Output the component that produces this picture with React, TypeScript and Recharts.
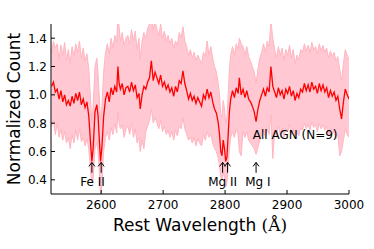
import React from 'react';
import { ComposedChart, Line, Area, XAxis, YAxis, ReferenceLine, ReferenceDot } from 'recharts';

const wavelength = [
  2520, 2523, 2526, 2529, 2532, 2535, 2538, 2541, 2544, 2547, 2550, 2553, 2556, 2559, 2562, 2565, 2568, 2571, 2574, 2577,
  2580, 2583, 2585, 2587, 2590, 2593, 2595, 2597, 2599, 2601, 2604, 2607, 2610, 2613, 2616, 2619, 2622, 2625, 2627, 2629,
  2631, 2634, 2637, 2640,
  2643, 2646, 2649, 2652, 2655, 2658, 2661, 2663, 2666, 2669, 2672, 2675, 2678, 2681, 2684, 2687, 2690, 2693, 2696, 2699,
  2702, 2705, 2708, 2711, 2714, 2717, 2720, 2723, 2726, 2729, 2732, 2735, 2738, 2741, 2744, 2747, 2750, 2753, 2756, 2759,
  2762, 2765, 2768, 2771, 2774, 2777, 2780, 2783, 2786, 2789, 2791, 2793, 2795, 2797, 2799, 2801, 2803, 2805, 2807, 2809,
  2812, 2815, 2818, 2821, 2823, 2826, 2829, 2832, 2835, 2838, 2841, 2844, 2847, 2850, 2853, 2856, 2859, 2862, 2865, 2868,
  2871, 2874, 2877,
  2880, 2883, 2886, 2889, 2892, 2895, 2898, 2901, 2904, 2907, 2910, 2913, 2916, 2919, 2922, 2925, 2928, 2931, 2934, 2937,
  2940, 2943, 2946, 2949, 2952, 2955, 2958, 2961, 2964, 2967, 2970, 2973, 2976, 2979, 2982, 2985, 2988, 2991, 2994, 2997,
  3000,
];

const flux = [
  1.06, 1.09, 1.02, 1.04, 0.97, 1.03, 0.95, 1.00, 0.93, 0.96, 0.92, 0.99, 0.94, 1.01, 0.96, 1.02, 0.93, 0.97, 0.91, 0.95,
  0.85, 0.65, 0.53, 0.62, 0.88, 0.93, 0.85, 0.68, 0.53, 0.62, 0.85, 0.97, 1.02, 0.95, 1.05, 1.00, 1.06, 1.02, 1.20, 1.08,
  1.04, 1.08, 1.00, 1.05,
  1.06, 1.02, 1.09, 1.03, 1.07, 0.98, 1.01, 0.90, 1.00, 1.06, 1.04, 1.09, 1.12, 1.24, 1.10, 1.16, 1.12, 1.08, 1.14, 1.06,
  1.09, 1.04, 1.07, 1.02, 1.05, 0.99, 1.06, 1.02, 1.10, 1.08, 1.17, 1.08, 1.03, 0.97, 1.01, 0.96, 0.99, 0.94, 0.98, 0.95,
  0.92, 1.00, 0.97, 1.04, 0.98, 1.02, 0.95, 0.90, 0.87, 0.80, 0.72, 0.60, 0.57, 0.68, 0.62, 0.53, 0.56, 0.72, 0.88, 0.97,
  1.03, 0.98, 1.05, 1.01, 1.12, 1.00, 1.04, 0.98, 1.03, 0.97, 0.95, 0.92, 0.88, 0.81, 0.90, 0.96, 1.00, 1.04, 0.99, 1.05,
  1.02, 1.20, 1.06,
  1.02, 0.98, 1.05, 1.00, 1.03, 0.97, 1.04, 1.01, 1.06, 0.99, 1.03, 0.96, 1.01, 0.98, 1.04, 1.02, 1.08, 1.03, 1.07, 1.02,
  1.09, 1.04, 1.06, 1.01, 1.08, 1.03, 1.07, 1.02, 1.05, 0.98, 1.03, 0.99, 1.02, 0.96, 0.99, 0.90, 0.83, 0.95, 1.04, 1.00,
  0.97,
];

const fluxHigh = [
  1.30, 1.38, 1.33, 1.36, 1.25, 1.35, 1.28, 1.37, 1.24, 1.32, 1.22, 1.34, 1.27, 1.36, 1.30, 1.38, 1.26, 1.33, 1.24, 1.29,
  1.18, 0.95, 0.80, 0.92, 1.20, 1.26, 1.15, 0.98, 0.82, 0.90, 1.16, 1.30, 1.36, 1.29, 1.40, 1.33, 1.42, 1.37, 1.55, 1.48,
  1.38, 1.44, 1.35, 1.40,
  1.42, 1.36, 1.46, 1.38, 1.45, 1.32, 1.40, 1.25, 1.38, 1.44, 1.40, 1.47, 1.50, 1.58, 1.46, 1.52, 1.46, 1.42, 1.50, 1.40,
  1.45, 1.38, 1.42, 1.36, 1.40, 1.33, 1.38, 1.35, 1.44, 1.40, 1.48, 1.38, 1.34, 1.28, 1.32, 1.26, 1.30, 1.24, 1.28, 1.25,
  1.22, 1.30, 1.27, 1.38, 1.28, 1.34, 1.26, 1.20, 1.16, 1.08, 1.00, 0.86, 0.84, 0.96, 0.90, 0.80, 0.84, 1.00, 1.18, 1.28,
  1.34, 1.28, 1.36, 1.32, 1.40, 1.36, 1.34, 1.28, 1.34, 1.27, 1.24, 1.20, 1.16, 1.08, 1.18, 1.26, 1.30, 1.36, 1.30, 1.38,
  1.34, 1.52, 1.40,
  1.32, 1.26, 1.34, 1.28, 1.33, 1.24, 1.32, 1.28, 1.35, 1.26, 1.32, 1.22, 1.28, 1.25, 1.32, 1.30, 1.36, 1.31, 1.35, 1.30,
  1.37, 1.32, 1.34, 1.29, 1.36, 1.31, 1.35, 1.30, 1.33, 1.26, 1.31, 1.27, 1.30, 1.24, 1.27, 1.18, 1.10, 1.22, 1.32, 1.28,
  1.25,
];

const fluxLow = [
  0.78, 0.82, 0.72, 0.80, 0.70, 0.76, 0.68, 0.74, 0.66, 0.70, 0.62, 0.72, 0.66, 0.75, 0.68, 0.76, 0.67, 0.70, 0.64, 0.69,
  0.62, 0.45, 0.38, 0.40, 0.62, 0.66, 0.60, 0.45, 0.30, 0.35, 0.60, 0.70, 0.74, 0.68, 0.77, 0.72, 0.80, 0.73, 0.88, 0.80,
  0.76, 0.79, 0.70, 0.76,
  0.78, 0.72, 0.80, 0.70, 0.76, 0.66, 0.70, 0.60, 0.68, 0.62, 0.74, 0.78, 0.82, 0.90, 0.80, 0.84, 0.80, 0.76, 0.82, 0.74,
  0.78, 0.72, 0.75, 0.70, 0.74, 0.68, 0.75, 0.71, 0.78, 0.76, 0.84, 0.76, 0.72, 0.68, 0.70, 0.66, 0.70, 0.64, 0.69, 0.66,
  0.64, 0.72, 0.68, 0.74, 0.70, 0.72, 0.66, 0.62, 0.60, 0.55, 0.50, 0.42, 0.40, 0.45, 0.42, 0.35, 0.38, 0.50, 0.62, 0.70,
  0.74, 0.70, 0.76, 0.72, 0.60, 0.57, 0.74, 0.70, 0.74, 0.68, 0.66, 0.64, 0.62, 0.58, 0.63, 0.68, 0.72, 0.75, 0.70, 0.76,
  0.72, 0.86, 0.55,
  0.74, 0.70, 0.78, 0.72, 0.76, 0.70, 0.77, 0.74, 0.79, 0.72, 0.76, 0.70, 0.74, 0.71, 0.77, 0.75, 0.80, 0.76, 0.79, 0.75,
  0.81, 0.77, 0.79, 0.74, 0.80, 0.76, 0.79, 0.75, 0.78, 0.71, 0.76, 0.72, 0.75, 0.69, 0.72, 0.57, 0.60, 0.68, 0.76, 0.72,
  0.70,
];

const xTicks = [2600, 2700, 2800, 2900, 3000];
const yTicks = [0.4, 0.6, 0.8, 1.0, 1.2, 1.4];

const arrowLines = [2585, 2600, 2796, 2804, 2850];
const lineLabels = [
  { name: 'Fe II', wl: 2586, y: 0.385 },
  { name: 'Mg II', wl: 2796, y: 0.385 },
  { name: 'Mg I', wl: 2853, y: 0.385 },
];
const groupLabel = { name: 'All AGN (N=9)', wl: 2913, y: 0.718 };
const arrowTail = 0.45;
const arrowTip = 0.523;

const data = wavelength.map((wl, i) => ({
  wl,
  flux: flux[i],
  band: [fluxLow[i], fluxHigh[i]],
}));

const FONT = 'DejaVu Sans, sans-serif';

const BottomTick = (props: any) => {
  const { x, y, payload } = props;
  return (
    <g>
      <line x1={x} x2={x} y1={y} y2={y - 4} stroke="#000" strokeWidth={1} />
      <text x={x} y={y + 15} textAnchor="middle" fontSize={12} fontFamily={FONT} fill="#000">
        {payload.value}
      </text>
    </g>
  );
};

const TopTick = (props: any) => {
  const { x, y } = props;
  return <line x1={x} x2={x} y1={y} y2={y + 4} stroke="#000" strokeWidth={1} />;
};

const LeftTick = (props: any) => {
  const { x, y, payload } = props;
  return (
    <g>
      <line x1={x} x2={x + 4} y1={y} y2={y} stroke="#000" strokeWidth={1} />
      <text x={x - 4} y={y} dy={4.5} textAnchor="end" fontSize={12} fontFamily={FONT} fill="#000">
        {Number(payload.value).toFixed(1)}
      </text>
    </g>
  );
};

const RightTick = (props: any) => {
  const { x, y } = props;
  return <line x1={x} x2={x - 4} y1={y} y2={y} stroke="#000" strokeWidth={1} />;
};

const ArrowShape = (props: any) => {
  const { x1, y1, x2, y2 } = props;
  return (
    <g>
      <line x1={x1} y1={y1} x2={x2} y2={y2} stroke="#000" strokeWidth={1} />
      <polyline points={`${x2 - 3},${y2 + 4} ${x2},${y2} ${x2 + 3},${y2 + 4}`} fill="none" stroke="#000" strokeWidth={1} />
    </g>
  );
};

const makeTextShape = (label: string) => (props: any) => (
  <text x={props.cx} y={props.cy} dy={4.5} textAnchor="middle" fontSize={12} fontFamily={FONT} fill="#000">
    {label}
  </text>
);

export default function App() {
  return (
    <div style={{ position: 'absolute', left: 0, top: 0, width: 374, height: 249, background: '#fff' }}>
      <ComposedChart width={374} height={249} data={data} margin={{ top: 24, right: 25, bottom: 0, left: 0 }}>
        <XAxis
          dataKey="wl"
          type="number"
          domain={[2519, 3000]}
          allowDataOverflow
          ticks={xTicks}
          tickSize={0}
          tickMargin={0}
          tick={<BottomTick />}
          height={55}
          stroke="#000"
          axisLine={{ stroke: '#000' }}
          label={{
            content: (p: any) => {
              const vb = p.viewBox;
              return (
                <text x={vb.x + vb.width / 2} y={vb.y + 37} textAnchor="middle" fontSize={17} fontFamily={FONT} fill="#000">
                  Rest Wavelength <tspan fontFamily="DejaVu Serif, serif">(Å)</tspan>
                </text>
              );
            },
          }}
        />
        <XAxis
          xAxisId="top"
          orientation="top"
          dataKey="wl"
          type="number"
          domain={[2519, 3000]}
          allowDataOverflow
          ticks={xTicks}
          tickSize={0}
          tickMargin={0}
          tick={<TopTick />}
          height={0}
          axisLine={{ stroke: '#000' }}
          label={{
            content: (p: any) => {
              const vb = p.viewBox;
              return (
                <text x={vb.x + vb.width / 2} y={vb.y - 5.5} textAnchor="middle" fontSize={12.5} fontFamily={FONT} fill="#000">
                  NUV composite spectrum of Narrow Line AGN
                </text>
              );
            },
          }}
        />
        <YAxis
          type="number"
          domain={[0.3, 1.5]}
          allowDataOverflow
          ticks={yTicks}
          tickSize={0}
          tickMargin={0}
          tick={<LeftTick />}
          width={51}
          axisLine={{ stroke: '#000' }}
          label={{
            content: (p: any) => {
              const vb = p.viewBox;
              const cx = 14;
              const cy = vb.y + vb.height / 2;
              return (
                <text x={cx} y={cy} transform={`rotate(-90 ${cx} ${cy})`} dy={6} textAnchor="middle" fontSize={17} fontFamily={FONT} fill="#000">
                  Normalized Count
                </text>
              );
            },
          }}
        />
        <YAxis
          yAxisId="right"
          orientation="right"
          type="number"
          domain={[0.3, 1.5]}
          allowDataOverflow
          ticks={yTicks}
          tickSize={0}
          tickMargin={0}
          tick={<RightTick />}
          width={0}
          axisLine={{ stroke: '#000' }}
        />
        <Area
          type="linear"
          dataKey="band"
          stroke="#ffb6c1"
          strokeWidth={1}
          fill="#ffc8d2"
          fillOpacity={1}
          isAnimationActive={false}
          dot={false}
          activeDot={false}
        />
        <Line
          type="linear"
          dataKey="flux"
          stroke="#ff0000"
          strokeWidth={1.3}
          dot={false}
          activeDot={false}
          isAnimationActive={false}
        />
        {arrowLines.map((wl) => (
          <ReferenceLine
            key={wl}
            segment={[
              { x: wl, y: arrowTail },
              { x: wl, y: arrowTip },
            ]}
            shape={<ArrowShape />}
            ifOverflow="visible"
          />
        ))}
        {lineLabels.map((l) => (
          <ReferenceDot key={l.name} x={l.wl} y={l.y} r={0} shape={makeTextShape(l.name)} ifOverflow="visible" />
        ))}
        <ReferenceDot x={groupLabel.wl} y={groupLabel.y} r={0} shape={makeTextShape(groupLabel.name)} ifOverflow="visible" />
      </ComposedChart>
    </div>
  );
}
